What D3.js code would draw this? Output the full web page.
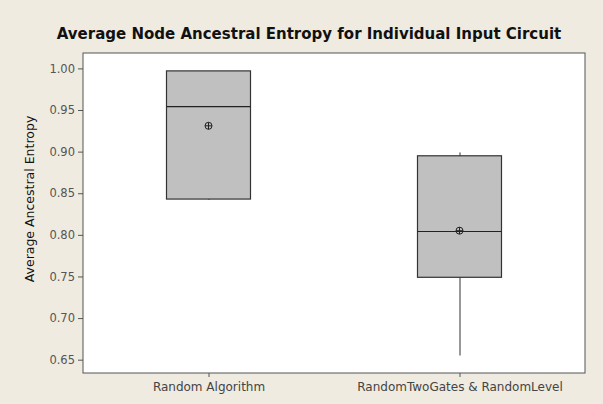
<!DOCTYPE html>
<html>
  <head>
    <meta charset="utf-8" />
    <title>Average Node Ancestral Entropy</title>
    <script src="https://d3js.org/d3.v7.min.js"></script>
    <style>
      html,
      body {
        margin: 0;
        padding: 0;
        background: #efebe0;
      }
      svg text {
        font-family: "DejaVu Sans", Verdana, sans-serif;
      }
    </style>
  </head>
  <body>
    <svg id="chart"></svg>
    <script>
      // Values
      const categories = ["Random Algorithm", "RandomTwoGates & RandomLevel"];
      const whiskerLow = [0.842, 0.655];
      const q1 = [0.843, 0.749];
      const median = [0.954, 0.804];
      const q3 = [0.997, 0.895];
      const whiskerHigh = [0.997, 0.899];
      const means = [0.931, 0.805];
      const yTicks = [0.65, 0.7, 0.75, 0.8, 0.85, 0.9, 0.95, 1.0];

      const width = 603;
      const height = 404;

      // plot frame
      const plotLeft = 83;
      const plotTop = 53;
      const plotRight = 585;
      const plotBottom = 373;

      const svg = d3.select("#chart").attr("width", width).attr("height", height);

      const x = d3.scalePoint().domain(categories).range([plotLeft, plotRight]).padding(0.5);
      const y = d3.scaleLinear().domain([0.634, 1.0185]).range([plotBottom, plotTop]);
      const boxW = 84;

      svg
        .append("rect")
        .attr("x", plotLeft)
        .attr("y", plotTop)
        .attr("width", plotRight - plotLeft)
        .attr("height", plotBottom - plotTop)
        .attr("fill", "white")
        .attr("stroke", "#555")
        .attr("stroke-width", 1);

      // title
      svg
        .append("text")
        .attr("x", 309)
        .attr("y", 39)
        .attr("text-anchor", "middle")
        .attr("font-size", 15)
        .attr("font-weight", "bold")
        .attr("fill", "#111")
        .text("Average Node Ancestral Entropy for Individual Input Circuit");

      // axes
      const yAxis = svg
        .append("g")
        .attr("transform", `translate(${plotLeft},0)`)
        .call(d3.axisLeft(y).tickValues(yTicks).tickFormat(d3.format(".2f")).tickSize(5).tickPadding(3));
      yAxis.select(".domain").remove();

      const xAxis = svg
        .append("g")
        .attr("transform", `translate(0,${plotBottom})`)
        .call(d3.axisBottom(x).tickSize(4).tickPadding(5));
      xAxis.select(".domain").remove();

      svg.selectAll(".tick line").attr("stroke", "#555");
      yAxis.selectAll(".tick text").attr("fill", "#555").attr("font-size", 11.5);
      xAxis.selectAll(".tick text").attr("fill", "#444").attr("font-size", 12);

      svg
        .append("text")
        .attr("transform", `translate(34,199) rotate(-90)`)
        .attr("text-anchor", "middle")
        .attr("font-size", 12.5)
        .attr("fill", "#111")
        .text("Average Ancestral Entropy");

      const boxes = svg
        .selectAll(".box")
        .data(categories)
        .enter()
        .append("g")
        .attr("class", "box");

      // whiskers
      boxes
        .append("line")
        .attr("x1", (d) => x(d) + 0.5)
        .attr("x2", (d) => x(d) + 0.5)
        .attr("y1", (d, i) => y(whiskerHigh[i]))
        .attr("y2", (d, i) => y(q3[i]))
        .attr("stroke", "#333");
      boxes
        .append("line")
        .attr("x1", (d) => x(d) + 0.5)
        .attr("x2", (d) => x(d) + 0.5)
        .attr("y1", (d, i) => y(q1[i]))
        .attr("y2", (d, i) => y(whiskerLow[i]))
        .attr("stroke", "#333");

      boxes
        .append("rect")
        .attr("x", (d) => x(d) - boxW / 2)
        .attr("width", boxW)
        .attr("y", (d, i) => y(q3[i]))
        .attr("height", (d, i) => y(q1[i]) - y(q3[i]))
        .attr("fill", "#c0c0c0")
        .attr("stroke", "#333")
        .attr("stroke-width", 1.2);

      boxes
        .append("line")
        .attr("x1", (d) => x(d) - boxW / 2)
        .attr("x2", (d) => x(d) + boxW / 2)
        .attr("y1", (d, i) => y(median[i]))
        .attr("y2", (d, i) => y(median[i]))
        .attr("stroke", "#222")
        .attr("stroke-width", 1.2);

      // mean symbol: circle with cross
      const r = 3.5;
      boxes
        .append("circle")
        .attr("cx", (d) => x(d))
        .attr("cy", (d, i) => y(means[i]))
        .attr("r", r)
        .attr("fill", "none")
        .attr("stroke", "#222");
      boxes
        .append("path")
        .attr("d", (d, i) => {
          const cx = x(d);
          const cy = y(means[i]);
          return `M${cx - r},${cy}H${cx + r}M${cx},${cy - r}V${cy + r}`;
        })
        .attr("stroke", "#222");
    </script>
  </body>
</html>
